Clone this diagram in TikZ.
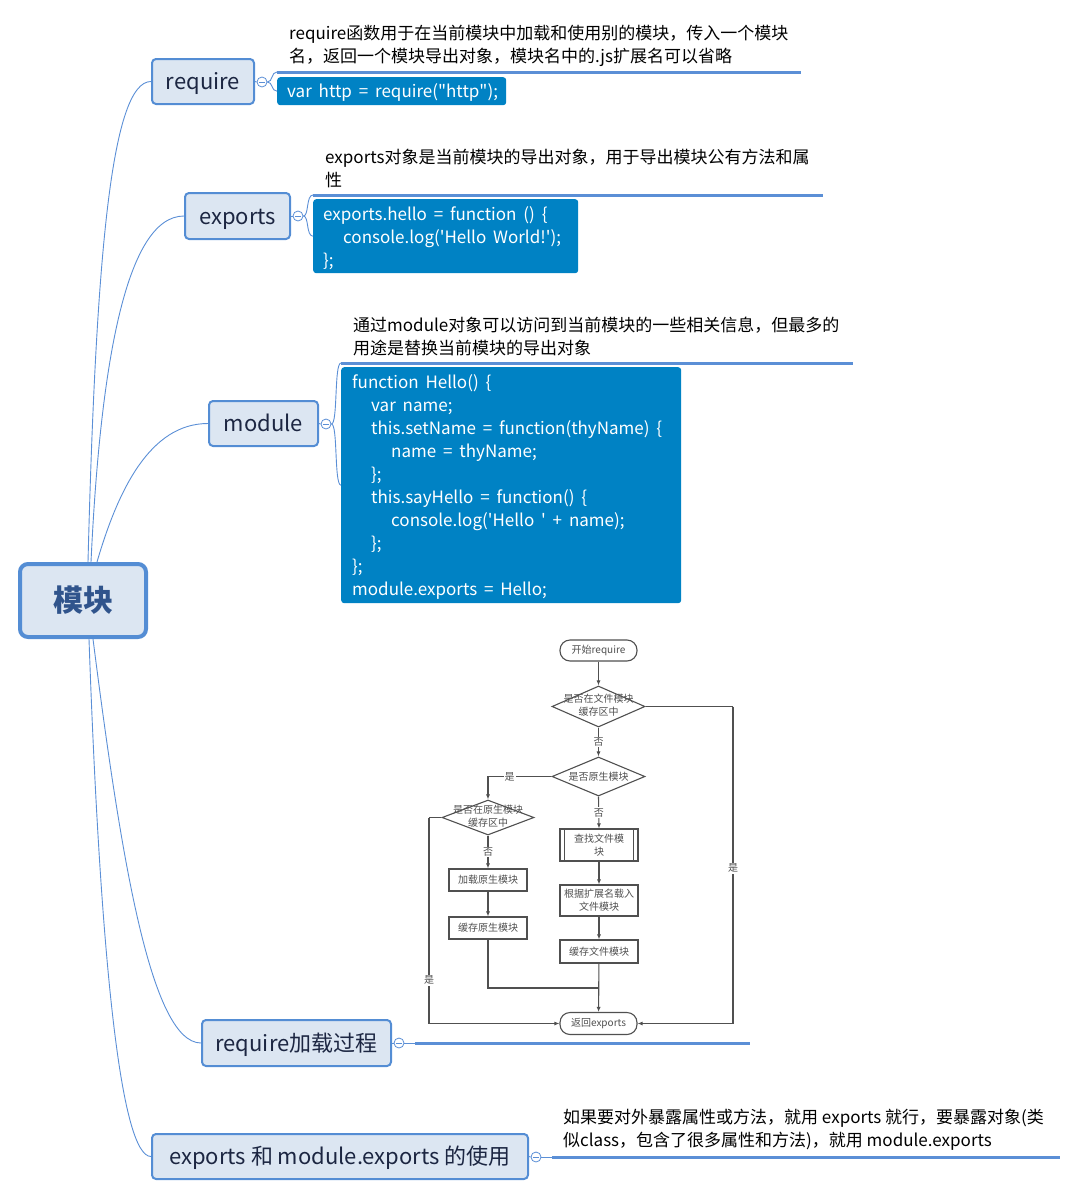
\documentclass[tikz,border=0pt]{standalone}
\usepackage{fontspec}
\setmainfont{Noto Sans CJK SC}
\newfontfamily\codefont{Noto Sans CJK SC}[WordSpace=1.8]
\usetikzlibrary{arrows.meta,shapes.geometric}

\definecolor{mmline}{RGB}{91,143,214}
\definecolor{topicfill}{RGB}{220,230,242}
\definecolor{topicdraw}{RGB}{84,141,212}
\definecolor{topictext}{RGB}{28,38,66}
\definecolor{roottext}{RGB}{48,84,140}
\definecolor{codefill}{RGB}{0,130,196}
\definecolor{fcgray}{RGB}{80,80,80}

\tikzset{
  rootnode/.style={draw=topicdraw, fill=topicfill, line width=4pt, rounded corners=8pt,
    text=roottext, font=\fontsize{30}{34}\selectfont\bfseries,
    minimum width=126pt, minimum height=73pt, inner sep=0pt},
  topic/.style={draw=topicdraw, fill=topicfill, line width=2pt, rounded corners=4pt,
    text=topictext, font=\fontsize{22}{26}\selectfont, inner sep=0pt, minimum height=45pt,
    text height=18pt, text depth=2pt},
  note/.style={anchor=west, inner sep=0pt, align=left, text=black,
    font=\fontsize{17}{23}\selectfont},
  codebox/.style={anchor=north west, fill=codefill, rounded corners=3pt, inner sep=0pt},
  codetext/.style={anchor=west, inner sep=0pt, align=left, text=white,
    font=\codefont\fontsize{17}{23}\selectfont},
  branch/.style={draw=mmline, line width=0.9pt},
  bar/.style={draw=mmline, line width=3pt},
  fold/.style={draw=mmline, fill=white, line width=0.8pt, circle, minimum size=10pt, inner sep=0pt},
  foldmark/.style={draw=mmline, line width=0.8pt},
  fcline/.style={draw=fcgray, line width=1.1pt},
  fcarrow/.style={fcline, -{Latex[length=5pt,width=4pt]}},
  fcbox/.style={draw=fcgray, line width=1.1pt, fill=white, text=fcgray,
    font=\fontsize{10}{13}\selectfont, minimum width=78pt, minimum height=22pt,
    inner sep=1pt, align=center},
  fcterm/.style={fcbox, rounded corners=10pt, minimum width=77pt, minimum height=21pt},
  fcdec/.style={diamond, draw=fcgray, line width=1.1pt, fill=white, inner sep=0pt,
    minimum width=93pt, minimum height=41pt},
  fctext/.style={text=fcgray, font=\fontsize{10}{13}\selectfont, align=center, inner sep=0pt},
  fclabel/.style={fill=white, text=fcgray, font=\fontsize{10}{12}\selectfont, inner sep=1pt}
}

\begin{document}
\begin{tikzpicture}[x=1pt,y=-1pt]
\useasboundingbox (0,0) rectangle (1078,1197);

% ---------- main topics ----------
\node[rootnode] (root) at (83,600.5) {模块};
\node[topic, minimum width=102pt] (req) at (203,81.5) {require};
\node[topic, minimum width=105pt, minimum height=46pt] (exp) at (237.5,216) {exports};
\node[topic, minimum width=109pt] (mod) at (263.5,423.5) {module};
\node[topic, minimum width=189pt, minimum height=46pt] (load) at (296.5,1043) {require加载过程};
\node[topic, minimum width=376pt] (use) at (340,1156.5) {exports 和 module.exports 的使用};

% ---------- branches from the root ----------
\draw[branch] ([xshift=5pt]root.north) .. controls (96,250) and (112,81.5) .. (req.west);
\draw[branch] ([xshift=8pt]root.north) .. controls (100,370) and (125,216) .. (exp.west);
\draw[branch] ([xshift=14pt]root.north) .. controls (118,490) and (150,423.5) .. (mod.west);
\draw[branch] ([xshift=10pt]root.south) .. controls (120,850) and (150,1043) .. (load.west);
\draw[branch] ([xshift=6pt]root.south) .. controls (100,950) and (120,1156.5) .. (use.west);

% ---------- fold markers ----------
\node[fold] (f1) at (262,82) {};
\node[fold] (f2) at (298,216) {};
\node[fold] (f3) at (326,424) {};
\node[fold] (f4) at (399,1043) {};
\node[fold] (f5) at (536,1157) {};
\foreach \f in {f1,f2,f3,f4,f5}
  \draw[foldmark] ([xshift=-3pt]\f.center) -- ([xshift=3pt]\f.center);
\draw[branch] (req.east) -- (f1.west);
\draw[branch] (exp.east) -- (f2.west);
\draw[branch] (mod.east) -- (f3.west);
\draw[branch] (load.east) -- (f4.west);
\draw[branch] (use.east) -- (f5.west);

% ---------- require ----------
\coordinate (u1a) at (277,72);
\coordinate (u1b) at (801,72);
\draw[bar] (u1a) -- (u1b);
\node[note] (n1) at (289,45.5) {require函数用于在当前模块中加载和使用别的模块，传入一个模块\\名，返回一个模块导出对象，模块名中的.js扩展名可以省略};
\node[codebox, minimum width=229pt, minimum height=28pt] (c1) at (277,77) {};
\node[codetext] (c1t) at ([xshift=10pt,yshift=-1.5pt]c1.west) {var http = require(\textquotedbl http\textquotedbl);};
\draw[branch] (f1.east) .. controls (273,82) and (271,72) .. (u1a);
\draw[branch] (f1.east) .. controls (273,82) and (271,91) .. (c1.west);

% ---------- exports ----------
\coordinate (u2a) at (313,195);
\coordinate (u2b) at (823,195);
\draw[bar] (u2a) -- (u2b);
\node[note] (n2) at (325,168.5) {exports对象是当前模块的导出对象，用于导出模块公有方法和属\\性};
\node[codebox, minimum width=265pt, minimum height=74pt] (c2) at (313,199) {};
\node[codetext] (c2t) at ([xshift=10pt,yshift=-1.5pt]c2.west) {exports.hello = function () \{\\
\hspace*{20pt}console.log(\textquotesingle Hello World!\textquotesingle);\\
\};};
\draw[branch] (f2.east) .. controls (309,216) and (306,195) .. (u2a);
\draw[branch] (f2.east) .. controls (309,216) and (306,236) .. (c2.west);

% ---------- module ----------
\coordinate (u3a) at (341,363);
\coordinate (u3b) at (853,363);
\draw[bar] (u3a) -- (u3b);
\node[note] (n3) at (353,336.5) {通过module对象可以访问到当前模块的一些相关信息，但最多的\\用途是替换当前模块的导出对象};
\node[codebox, minimum width=340pt, minimum height=236pt] (c3) at (341,367) {};
\node[codetext] (c3t) at ([xshift=11pt,yshift=-1.5pt]c3.west) {function Hello() \{\\
\hspace*{19pt}var name;\\
\hspace*{19pt}this.setName = function(thyName) \{\\
\hspace*{39pt}name = thyName;\\
\hspace*{19pt}\};\\
\hspace*{19pt}this.sayHello = function() \{\\
\hspace*{39pt}console.log(\textquotesingle Hello\ \textquotesingle\ + name);\\
\hspace*{19pt}\};\\
\};\\
module.exports = Hello;};
\draw[branch] (f3.east) .. controls (338,424) and (334,363) .. (u3a);
\draw[branch] (f3.east) .. controls (338,424) and (334,485) .. (c3.west);

% ---------- require loading ----------
\coordinate (u4a) at (415,1043);
\coordinate (u4b) at (750,1043);
\draw[branch] (f4.east) -- (u4a);
\draw[bar] (u4a) -- (u4b);

% flowchart
\node[fcterm] (fs) at (598.5,650.5) {开始require};
\node[fcdec] (fd1) at (598.5,706.5) {};
\node[fctext] (fd1t) at (598.5,705.5) {是否在文件模块\\缓存区中};
\node[fcdec, minimum height=39pt] (fd2) at (598.5,776.5) {};
\node[fctext] (fd2t) at (fd2) {是否原生模块};
\node[fcdec, minimum width=92pt, minimum height=35pt] (fd3) at (488,817.5) {};
\node[fctext] (fd3t) at (488,816.5) {是否在原生模块\\缓存区中};
\node[fcbox] (fb1) at (488,880) {加载原生模块};
\node[fcbox] (fb2) at (488,928) {缓存原生模块};
\node[fcbox, minimum height=32pt] (fp) at (599,845) {查找文件模\\块};
\draw[fcline] ([xshift=5pt]fp.north west) -- ([xshift=5pt]fp.south west);
\draw[fcline] ([xshift=-5pt]fp.north east) -- ([xshift=-5pt]fp.south east);
\node[fcbox, minimum height=31pt] (fb3) at (599,900.5) {根据扩展名载入\\文件模块};
\node[fcbox, minimum height=23pt] (fb4) at (599,951.5) {缓存文件模块};
\node[fcterm, minimum height=22pt] (fe) at (598.5,1023.5) {返回exports};

\coordinate (r1) at (733,706.5);
\coordinate (r2) at (733,1023.5);
\coordinate (l1) at (429,817.5);
\coordinate (l2) at (429,1023.5);
\coordinate (j1) at (599,988);

\draw[fcarrow] (fs) -- (fd1.north);
\draw[fcarrow] (fd1.south) -- node[fclabel, pos=0.5]{否} (fd2.north);
\draw[fcarrow] (fd2.west) -| node[fclabel, pos=0.33]{是} (fd3.north);
\draw[fcarrow] (fd3.south) -- node[fclabel, pos=0.5]{否} (fb1.north);
\draw[fcarrow] (fb1) -- (fb2);
\draw[fcline] (fb2.south) |- (j1);
\draw[fcarrow] (fd2.south) -- node[fclabel, pos=0.5]{否} (fp.north);
\draw[fcarrow] (fp) -- (fb3);
\draw[fcarrow] (fb3) -- (fb4);
\draw[fcarrow] (fb4) -- (fe);
\draw[fcline] (fd1.east) -- (r1);
\draw[fcarrow] (r1) -- node[fclabel, pos=0.51]{是} (r2) -- (fe.east);
\draw[fcline] (fd3.west) -- (l1);
\draw[fcarrow] (l1) -- node[fclabel, pos=0.79]{是} (l2) -- (fe.west);

% ---------- usage ----------
\coordinate (u5a) at (552,1157);
\coordinate (u5b) at (1060,1157);
\draw[branch] (f5.east) -- (u5a);
\draw[bar] (u5a) -- (u5b);
\node[note] (n5) at (563,1129.5) {如果要对外暴露属性或方法，就用 exports 就行，要暴露对象(类\\似class，包含了很多属性和方法)，就用 module.exports};

\end{tikzpicture}
\end{document}
